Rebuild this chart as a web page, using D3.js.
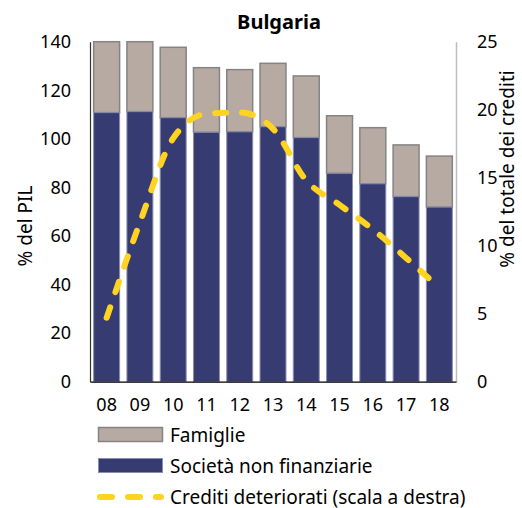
<!DOCTYPE html>
<html><head><meta charset="utf-8">
<script src="https://cdn.jsdelivr.net/npm/d3@7"></script>
<style>body{margin:0;background:#fff}svg{display:block}text{font-family:"Noto Sans",sans-serif;fill:#000}</style>
</head><body><div id="chart"></div>
<script>
const categories = ["08","09","10","11","12","13","14","15","16","17","18"];
const societa = [110.8,111.2,108.7,102.7,102.9,105.0,100.5,85.8,81.5,76.2,71.9];
const totale = [140,140,137.7,129.3,128.5,131.1,125.9,109.5,104.6,97.5,92.9];
const famiglie = totale.map((t,i)=>+(t-societa[i]).toFixed(1));
const crediti = [4.7,11.7,17.9,19.7,19.8,18.6,14.8,13.0,11.2,9.1,6.9];
const leftTicks = [0,20,40,60,80,100,120,140];
const rightTicks = [0,5,10,15,20,25];

const W=522,H=508;
const svg=d3.select("#chart").append("svg").attr("width",W).attr("height",H);
const L=90,R=456,T=41.7,B=381.7;
const x=d3.scaleBand().domain(categories).range([L,R]).paddingInner(0.22).paddingOuter(0.11);
const y=d3.scaleLinear().domain([0,140]).range([B,T]);
const y2=d3.scaleLinear().domain([0,25]).range([B,T]);

const NAVY="#363b72",GREY="#b6aaa3";
const g=svg.append("g");
g.selectAll(".fam").data(categories).join("rect")
 .attr("x",d=>x(d)).attr("width",x.bandwidth())
 .attr("y",(d,i)=>y(societa[i]+famiglie[i])).attr("height",(d,i)=>y(societa[i])-y(societa[i]+famiglie[i]))
 .attr("fill",GREY).attr("stroke","#848484").attr("stroke-width",1.5);
g.selectAll(".soc").data(categories).join("rect")
 .attr("x",d=>x(d)).attr("width",x.bandwidth())
 .attr("y",(d,i)=>y(societa[i])).attr("height",(d,i)=>B-y(societa[i]))
 .attr("fill",NAVY).attr("stroke","#8a8eae").attr("stroke-width",1);

const yl=svg.append("g").attr("transform",`translate(${L},0)`).call(d3.axisLeft(y).tickValues(leftTicks).tickSize(0).tickPadding(19));
yl.select(".domain").attr("stroke","#333").attr("stroke-width",1.2);
const yr=svg.append("g").attr("transform",`translate(${R},0)`).call(d3.axisRight(y2).tickValues(rightTicks).tickSize(0).tickPadding(21));
yr.select(".domain").attr("stroke","#bdbdbd").attr("stroke-width",1.5);
const xa=svg.append("g").attr("transform",`translate(0,${B})`).call(d3.axisBottom(x).tickSize(0).tickPadding(17));
xa.select(".domain").attr("stroke","#000").attr("stroke-width",1.2);
svg.selectAll(".tick text").style("font-size","18px").style("font-family","Noto Sans").attr("fill","#000");

const line=d3.line().x((d,i)=>x(categories[i])+x.bandwidth()/2).y(d=>y2(d)).curve(d3.curveMonotoneX);
svg.append("path").datum(crediti).attr("d",line).attr("fill","none")
 .attr("stroke","#ffd320").attr("stroke-width",6).attr("stroke-linecap","round").attr("stroke-dasharray","11,16");

svg.append("text").attr("x",279).attr("y",29).attr("text-anchor","middle").style("font-size","20px").style("font-weight","bold").text("Bulgaria");
svg.append("text").attr("transform","translate(32,226) rotate(-90)").attr("text-anchor","middle").style("font-size","19px").text("% del PIL");
svg.append("text").attr("transform","translate(514,169) rotate(-90)").attr("text-anchor","middle").style("font-size","19px").text("% del totale dei crediti");

const lg=svg.append("g");
lg.append("rect").attr("x",98.5).attr("y",427.5).attr("width",64).attr("height",14).attr("fill",GREY).attr("stroke","#848484").attr("stroke-width",1.5);
lg.append("text").attr("x",170).attr("y",441.5).style("font-size","19px").text("Famiglie");
lg.append("rect").attr("x",98.5).attr("y",458.5).attr("width",64).attr("height",14).attr("fill",NAVY).attr("stroke","#8a8eae").attr("stroke-width",1);
lg.append("text").attr("x",170).attr("y",472.5).style("font-size","19px").text("Società non finanziarie");
lg.append("line").attr("x1",100).attr("x2",161).attr("y1",497).attr("y2",497).attr("stroke","#ffd320").attr("stroke-width",6).attr("stroke-linecap","round").attr("stroke-dasharray","12,16");
lg.append("text").attr("x",170).attr("y",503.5).style("font-size","19px").text("Crediti deteriorati (scala a destra)");
</script></body></html>
